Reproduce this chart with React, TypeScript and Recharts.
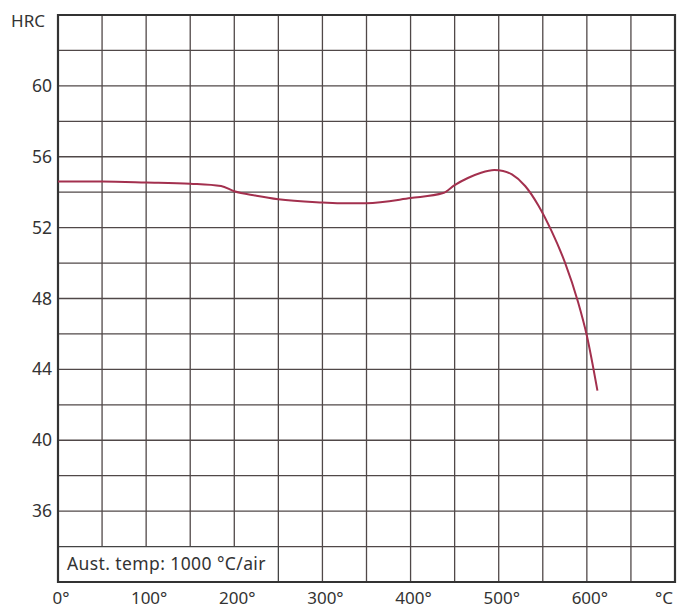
import React from "react";
import { LineChart, Line, XAxis, YAxis, CartesianGrid, ReferenceArea } from "recharts";

// temper temperature (°C) vs hardness (HRC)
const temps = [0, 50, 100, 150, 185, 200, 225, 250, 300, 325, 350, 400, 437, 450, 465, 480, 495, 505, 515, 530, 545, 560, 575, 590, 600, 612];
const hrc = [54.6, 54.6, 54.55, 54.48, 54.35, 54.05, 53.8, 53.6, 53.42, 53.37, 53.38, 53.67, 53.95, 54.4, 54.8, 55.1, 55.25, 55.2, 55.0, 54.35, 53.25, 51.8, 50.05, 47.8, 45.9, 42.8];

const xTicks = [0, 50, 100, 150, 200, 250, 300, 350, 400, 450, 500, 550, 600, 650, 700];
const yTicks = [32, 34, 36, 38, 40, 42, 44, 46, 48, 50, 52, 54, 56, 58, 60, 62, 64];
const yLabelled = [36, 40, 44, 48, 52, 56, 60];

const data = temps.map((t, i) => ({ t, hrc: hrc[i] }));

const FONT = "'Noto Sans', sans-serif";
const TEXT = "#333";

const XTick = ({ x, y, payload }: any) => {
  const v = payload.value;
  let text = "";
  if (v === 700) text = "°C";
  else if (v % 100 === 0) text = `${v}°`;
  if (!text) return <g />;
  return (
    <text
      x={v === 700 ? x - 2 : x + 3}
      y={y + 22}
      textAnchor={v === 700 ? "end" : "middle"}
      fontSize={17}
      fontFamily={FONT}
      fill={TEXT}
    >
      {text}
    </text>
  );
};

const YTick = ({ x, y, payload }: any) => {
  const v = payload.value;
  if (v === 64) {
    return (
      <text x={x - 13} y={y + 12} textAnchor="end" fontSize={17} fontFamily={FONT} fill={TEXT}>
        HRC
      </text>
    );
  }
  if (!yLabelled.includes(v)) return <g />;
  return (
    <text x={x - 6} y={y + 6} textAnchor="end" fontSize={17.5} fontFamily={FONT} fill={TEXT}>
      {v}
    </text>
  );
};

export default function App() {
  return (
    <div style={{ position: "absolute", left: 0, top: 0, width: 679, height: 612, background: "#fff" }}>
      <LineChart width={679} height={612} data={data} margin={{ top: 15, right: 4, bottom: 0, left: 0 }}>
        <CartesianGrid stroke="#504848" strokeWidth={1.3} />
        <XAxis
          dataKey="t"
          type="number"
          domain={[0, 700]}
          ticks={xTicks}
          tick={<XTick />}
          tickSize={0}
          tickMargin={0}
          axisLine={false}
          interval={0}
          height={30}
        />
        <YAxis
          type="number"
          domain={[32, 64]}
          ticks={yTicks}
          tick={<YTick />}
          tickSize={0}
          tickMargin={0}
          axisLine={false}
          width={58}
          interval={0}
        />
        <ReferenceArea
          x1={0}
          x2={250}
          y1={32}
          y2={34}
          fill="#fff"
          fillOpacity={1}
          stroke="#444"
          strokeWidth={1.3}
          label={{ value: "Aust. temp: 1000 °C/air", position: "insideLeft", offset: 9, fontSize: 17.5, letterSpacing: 0.4, fontFamily: FONT, fill: TEXT }}
        />
        <Line
          type="monotone"
          dataKey="hrc"
          stroke="#a3304e"
          strokeWidth={2}
          dot={false}
          isAnimationActive={false}
        />
        <ReferenceArea x1={0} x2={700} y1={32} y2={64} fill="none" stroke="#333" strokeWidth={2.2} />
      </LineChart>
    </div>
  );
}
